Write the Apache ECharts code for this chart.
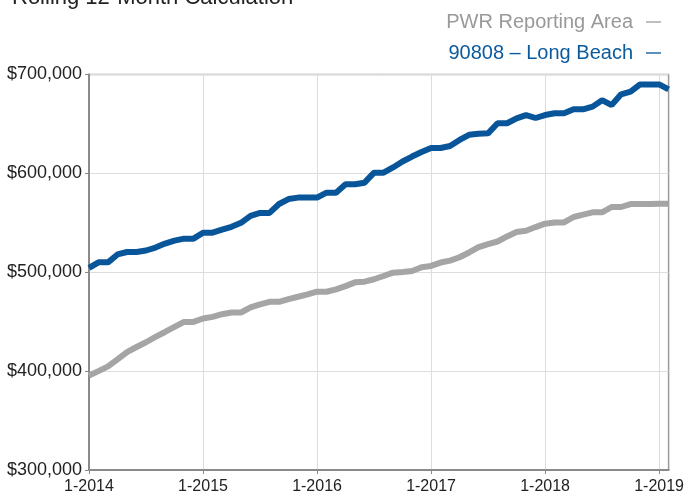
<!DOCTYPE html>
<html>
<head>
<meta charset="utf-8">
<script src="https://cdn.jsdelivr.net/npm/echarts@6/dist/echarts.min.js"></script>
<style>
html,body{margin:0;padding:0;background:#fff;}
#chart{width:687px;height:497px;}
</style>
</head>
<body>
<div id="chart"></div>
<script>
var titleText = 'Rolling 12-Month Calculation';
var seriesNames = ['PWR Reporting Area', '90808 \u2013 Long Beach'];
var years = [2014, 2015, 2016, 2017, 2018, 2019];
// monthly categories Jan 2014 .. Feb 2019
var months = [];
years.forEach(function (y) {
  for (var m = 1; m <= 12; m++) {
    if (y === 2019 && m > 2) break;
    months.push(m + '-' + y);
  }
});
var yTicks = [300000, 400000, 500000, 600000, 700000];

var pwr = [
  395600, 400000, 404800, 411900, 419300, 424400, 429200, 434600, 439600, 444700, 449800, 449800,
  453200, 454900, 457600, 459300, 459300, 464400, 467500, 470100, 470100, 472900, 475200, 477600,
  480300, 480300, 482700, 486000, 489800, 490500, 492900, 496200, 499600, 500300, 501300, 505100,
  506400, 509800, 511800, 515200, 520000, 525400, 528500, 531100, 536200, 540700, 542000, 545700,
  549100, 550400, 550400, 555900, 558200, 560600, 560600, 566000, 566000, 569000, 569000, 569000,
  569400, 569400
];
var longBeach = [
  504500, 510000, 510000, 518000, 520500, 520500, 522000, 525000, 529000, 532000, 534000, 534000,
  540000, 540000, 543000, 546000, 550000, 557000, 560000, 560000, 569000, 574000, 575500, 575500,
  575500, 580500, 580500, 589000, 589000, 590600, 600700, 600700, 606000, 612000, 617000, 621600,
  625700, 625700, 627700, 633800, 639000, 640000, 640500, 650700, 650700, 655700, 659000, 656000,
  659000, 660800, 660800, 664800, 664800, 667500, 674000, 669000, 680000, 682600, 690000, 690000,
  690000, 685000
];

var colors = ['#a5a5a5', '#08559a'];
var textColors = ['#999999', '#0b5a9e'];
var iconColors = ['#aaaaaa', '#2a6aa6'];

var chart = echarts.init(document.getElementById('chart'), null, {renderer: 'canvas'});
var font = '"Liberation Sans", Arial, Helvetica, sans-serif';

chart.setOption({
  animation: false,
  backgroundColor: '#ffffff',
  textStyle: {fontFamily: font},
  title: {
    text: titleText,
    left: 7,
    top: -18,
    textStyle: {fontSize: 22, fontWeight: 'normal', color: '#222222', fontFamily: font}
  },
  legend: {
    orient: 'vertical',
    right: 21,
    top: 5,
    align: 'right',
    itemWidth: 15,
    itemHeight: 1.5,
    itemGap: 7,
    icon: 'rect',
    data: seriesNames.map(function (n, i) {
      return {name: n, textStyle: {color: textColors[i]}, itemStyle: {color: iconColors[i]}};
    }),
    textStyle: {fontSize: 20, lineHeight: 24, fontFamily: font, padding: [0, 8, 0, 0]}
  },
  grid: {
    left: 89, right: 18, top: 74.5, bottom: 27,
    show: true, borderColor: '#9a9a9a', borderWidth: 1.5, containLabel: false
  },
  xAxis: {
    type: 'category',
    data: months,
    boundaryGap: false,
    axisLine: {lineStyle: {color: '#8a8a8a', width: 2}},
    axisTick: {show: true, interval: 11, length: 4, lineStyle: {color: '#8a8a8a'}},
    axisLabel: {
      interval: 11, margin: 9, fontSize: 16, color: '#222222', fontFamily: font,
      formatter: function (v) { return v; }
    },
    splitLine: {show: true, interval: 11, lineStyle: {color: '#dddddd', width: 1}}
  },
  yAxis: {
    type: 'value',
    min: yTicks[0], max: yTicks[yTicks.length - 1], interval: 100000,
    axisLine: {show: true, lineStyle: {color: '#8a8a8a', width: 2}},
    axisTick: {show: true, length: 4, lineStyle: {color: '#8a8a8a'}},
    axisLabel: {
      margin: 7, fontSize: 18, color: '#222222', fontFamily: font,
      formatter: function (v) { return '$' + v.toLocaleString('en-US'); }
    },
    splitLine: {show: true, lineStyle: {color: '#dddddd', width: 1}}
  },
  series: [
    {
      name: seriesNames[0], type: 'line', data: pwr, showSymbol: false,
      lineStyle: {color: colors[0], width: 6}, itemStyle: {color: colors[0]}, z: 2
    },
    {
      name: seriesNames[1], type: 'line', data: longBeach, showSymbol: false,
      lineStyle: {color: colors[1], width: 6}, itemStyle: {color: colors[1]}, z: 3
    }
  ]
});
</script>
</body>
</html>
